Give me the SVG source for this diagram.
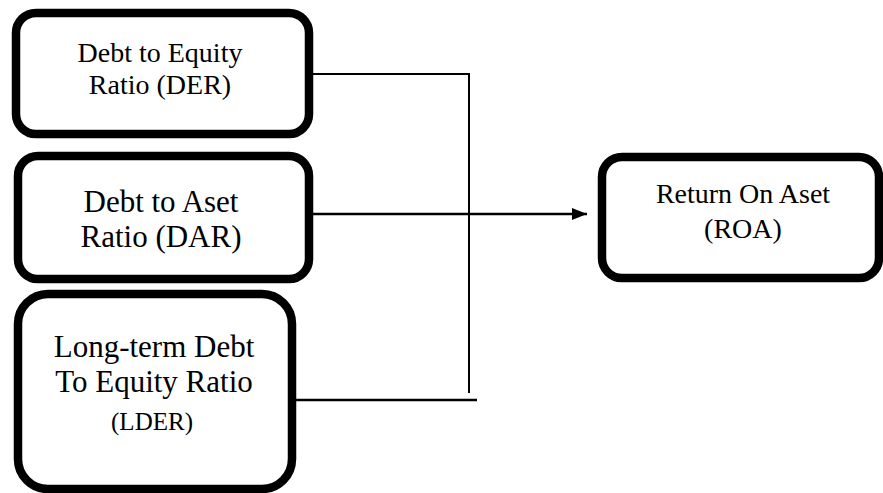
<svg xmlns="http://www.w3.org/2000/svg" width="883" height="493" viewBox="0 0 883 493">
<defs>
<style>
.box{fill:#fff;stroke:#000;stroke-width:8.5}
.t{fill:#000;text-anchor:middle}
.c{fill:none;stroke:#000}
</style>
<marker id="arr" markerWidth="16" markerHeight="12" refX="15" refY="6" orient="auto" markerUnits="userSpaceOnUse">
<path d="M0,0 L15,6 L0,12 Z" fill="#000"/>
</marker>
</defs>
<rect width="883" height="493" fill="#fff"/>
<g id="connectors">
<polyline class="c" points="313,74 469,74 469,393" stroke-width="2"/>
<line class="c" x1="313" y1="214" x2="587" y2="214" stroke-width="2.5" marker-end="url(#arr)"/>
<line class="c" x1="296" y1="400" x2="477" y2="400" stroke-width="2.5"/>
</g>
<g font-family="'Liberation Serif', 'Times New Roman', 'DejaVu Serif', serif">
<g id="der">
<rect class="box" x="16" y="13" width="293" height="121" rx="20"/>
<text class="t" x="160" y="62" font-size="28">Debt to Equity</text>
<text class="t" x="160" y="94" font-size="28">Ratio (DER)</text>
</g>
<g id="dar">
<rect class="box" x="18" y="156" width="291" height="123" rx="20"/>
<text class="t" x="161" y="212" font-size="31">Debt to Aset</text>
<text class="t" x="161" y="247" font-size="31">Ratio (DAR)</text>
</g>
<g id="lder">
<rect class="box" x="18" y="294" width="274" height="195" rx="30"/>
<text class="t" x="154" y="357" font-size="31">Long-term Debt</text>
<text class="t" x="154" y="392" font-size="31">To Equity Ratio</text>
<text class="t" x="152" y="430" font-size="25">(LDER)</text>
</g>
<g id="roa">
<rect class="box" x="602" y="157" width="277" height="121" rx="20"/>
<text class="t" x="743" y="203" font-size="28">Return On Aset</text>
<text class="t" x="743" y="238" font-size="28">(ROA)</text>
</g>
</g>
</svg>
